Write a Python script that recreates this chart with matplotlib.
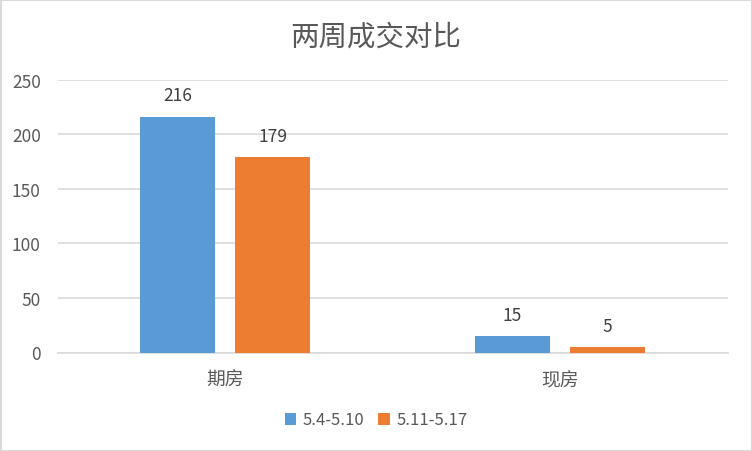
import matplotlib
matplotlib.use("Agg")
import matplotlib.pyplot as plt
import numpy as np
from matplotlib.patches import Rectangle

plt.rcParams['font.family'] = ['Noto Sans CJK SC', 'DejaVu Sans']

categories = ['期房', '现房']
series_names = ['5.4-5.10', '5.11-5.17']
s1 = [216, 15]
s2 = [179, 5]
colors = ['#5B9BD5', '#ED7D31']
yticks = [0, 50, 100, 150, 200, 250]

W, H = 752, 452
fig = plt.figure(figsize=(W/100, H/100), dpi=100)
ax = fig.add_axes([57.5/W, 1-353.5/H, 670/W, 273/H])

x = np.arange(len(categories))
bw = 0.224
off = 0.142
b1 = ax.bar(x - off, s1, bw, color=colors[0], zorder=3, label=series_names[0])
b2 = ax.bar(x + off, s2, bw, color=colors[1], zorder=3, label=series_names[1])
for bars, vals in ((b1, s1), (b2, s2)):
    for r, v in zip(bars, vals):
        ax.annotate(str(v), (r.get_x() + r.get_width()/2, v), xytext=(0, 9),
                    textcoords='offset points', ha='center', va='bottom',
                    fontsize=12.5, color='#404040')

ax.set_xlim(-0.5, 1.5)
ax.set_ylim(0, 250)
ax.set_yticks(yticks)
ax.set_xticks(x)
ax.set_xticklabels(categories, fontsize=13.5)
ax.grid(axis='y', color='#D9D9D9', linewidth=1.2, zorder=0)
for s in ['top', 'right', 'left']:
    ax.spines[s].set_visible(False)
ax.spines['bottom'].set_color('#D9D9D9')
ax.spines['bottom'].set_linewidth(1.2)
ax.tick_params(axis='both', length=0, colors='#595959')
ax.tick_params(axis='y', pad=12, labelsize=12.5)
ax.tick_params(axis='x', pad=12)

fig.text(376/W, 1-38/H, '两周成交对比', ha='center', va='center', fontsize=20.5, color='#595959')

leg = fig.legend(handles=[b1, b2], labels=series_names, loc='center', bbox_to_anchor=(376/W, 1-421/H),
                 ncol=2, frameon=False, fontsize=12, handlelength=0.7, handleheight=0.7,
                 columnspacing=0.8, handletextpad=0.4)
for t in leg.get_texts():
    t.set_color('#595959')

fig.patches.append(Rectangle((0.5/W, 0.5/H), 1-1/W, 1-1/H, transform=fig.transFigure,
                             fill=False, edgecolor='#D9D9D9', linewidth=1.5))

fig.savefig('out.png', dpi=100)
